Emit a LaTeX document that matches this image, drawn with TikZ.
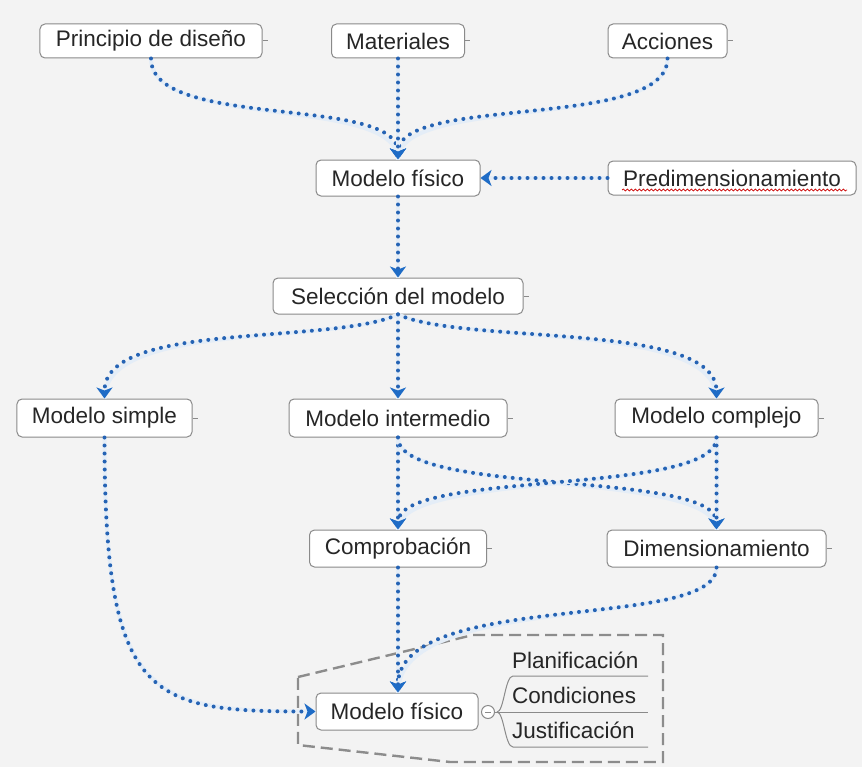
\documentclass[tikz,border=0pt]{standalone}
\usepackage{fontspec}
\setmainfont{Liberation Sans}
\usetikzlibrary{arrows.meta,decorations.pathmorphing}
\definecolor{bg}{HTML}{F3F3F3}
\definecolor{boxgray}{HTML}{8A8A8A}
\definecolor{textgray}{HTML}{262626}
\definecolor{linkblue}{HTML}{2563B4}
\definecolor{tipblue}{HTML}{1F6CC6}
\definecolor{halo}{HTML}{E4EDF7}
\definecolor{framegray}{HTML}{8C8C8C}
\begin{document}
\begin{tikzpicture}[x=1bp,y=-1bp,
  topic/.style={draw=boxgray, fill=white, rounded corners=5bp, line width=1bp,
    inner sep=0pt, text=textgray, font=\fontsize{22.5bp}{27bp}\selectfont},
  sub/.style={inner sep=0pt, anchor=base west, text=textgray,
    font=\fontsize{22.5bp}{27bp}\selectfont},
  link/.style={linkblue, line width=4bp, line cap=round,
    dash pattern=on 0bp off 8bp,
    preaction={draw=halo, line width=4bp, solid, -},
    -{Stealth[length=11bp, width=16bp, inset=3bp, color=tipblue]}},
  tick/.style={boxgray, line width=1bp},
  branch/.style={boxgray, line width=1bp},
  frame/.style={framegray, line width=2.4bp, dash pattern=on 12bp off 6bp}]

% canvas
\fill[bg] (0,0) rectangle (862,767);
\useasboundingbox (0,0) rectangle (862,767);

% boundary of the detailed physical model
\draw[frame] (298,677) -- (473,635) -- (663,635) -- (663,762) -- (450,762) -- (298,745) -- cycle;

% topics
\node[topic, minimum width=222bp, minimum height=34bp] (pdis) at (151,41) {Principio de diseño};
\node[topic, minimum width=133bp, minimum height=34bp] (mat)  at (398,41) {Materiales};
\node[topic, minimum width=119bp, minimum height=34bp] (acc)  at (667.5,41) {Acciones};
\node[topic, minimum width=164bp, minimum height=36bp] (mf1)  at (398,178) {Modelo físico};
\node[topic, minimum width=248bp, minimum height=34bp] (pre)  at (732,178) {Predimensionamiento};
\node[topic, minimum width=250bp, minimum height=36bp] (sel)  at (398,296) {Selección del modelo};
\node[topic, minimum width=175bp, minimum height=38bp] (msim) at (104.5,418) {Modelo simple};
\node[topic, minimum width=218bp, minimum height=38bp] (mint) at (398,418) {Modelo intermedio};
\node[topic, minimum width=203bp, minimum height=38bp] (mcom) at (716.5,418) {Modelo complejo};
\node[topic, minimum width=177bp, minimum height=37bp] (comp) at (398,548.5) {Comprobación};
\node[topic, minimum width=219bp, minimum height=37bp] (dim)  at (716.5,548.5) {Dimensionamiento};
\node[topic, minimum width=162bp, minimum height=37bp] (mf2)  at (397,711.5) {Modelo físico};

% spell-check squiggle
\draw[red!80!black, line width=0.7bp, decorate,
  decoration={snake, segment length=4bp, amplitude=1bp}]
  (622,190) -- (847,190);

% small ticks on the right of topics
\foreach \n in {pdis,mat,acc,sel,msim,mint,mcom,comp,dim}
  \draw[tick] (\n.east) -- ++(5,0);

% collapse button and subtopics
\node[circle, draw=boxgray, fill=white, line width=1bp, minimum size=13bp, inner sep=0pt] (fold) at (488,712) {};
\draw[boxgray, line width=1bp] ([xshift=-3bp]fold.center) -- ([xshift=3bp]fold.center);
\node[sub] (plan) at (512,668) {Planificación};
\node[sub] (cond) at (512,703) {Condiciones};
\node[sub] (just) at (512,738) {Justificación};
\coordinate (bstart) at (497,712);
\draw[branch] (fold.east) -- (648,712);
\draw[branch] (bstart) .. controls +(7,0) and +(-8,0) .. (513,676) -- (648,676);
\draw[branch] (bstart) .. controls +(7,0) and +(-8,0) .. (513,747) -- (648,747);

% connectors
\draw[link] (pdis.south) .. controls +(0,72) and +(0,-65) .. (mf1.north);
\draw[link] (acc.south) .. controls +(0,72) and +(0,-65) .. (mf1.north);
\draw[link] (mat.south) -- (mf1.north);
\draw[link] (pre.west) -- (mf1.east);
\draw[link] (mf1.south) -- (sel.north);
\draw[link] (sel.south) .. controls +(-68,31) and +(0,-78) .. (msim.north);
\draw[link] (sel.south) .. controls +(68,31) and +(0,-78) .. (mcom.north);
\draw[link] (sel.south) -- (mint.north);
\draw[link] (msim.south) .. controls +(0,264) and +(-166,0) .. (mf2.west);
\draw[link] (mint.south) -- (comp.north);
\draw[link] (mint.south) .. controls +(0,59) and +(0,-60) .. (dim.north);
\draw[link] (mcom.south) .. controls +(0,59) and +(0,-60) .. (comp.north);
\draw[link] (mcom.south) -- (dim.north);
\draw[link] (comp.south) -- ([xshift=1bp]mf2.north);
\draw[link] (dim.south) .. controls +(0,64) and +(0,-103) .. ([xshift=1bp]mf2.north);
\end{tikzpicture}
\end{document}
